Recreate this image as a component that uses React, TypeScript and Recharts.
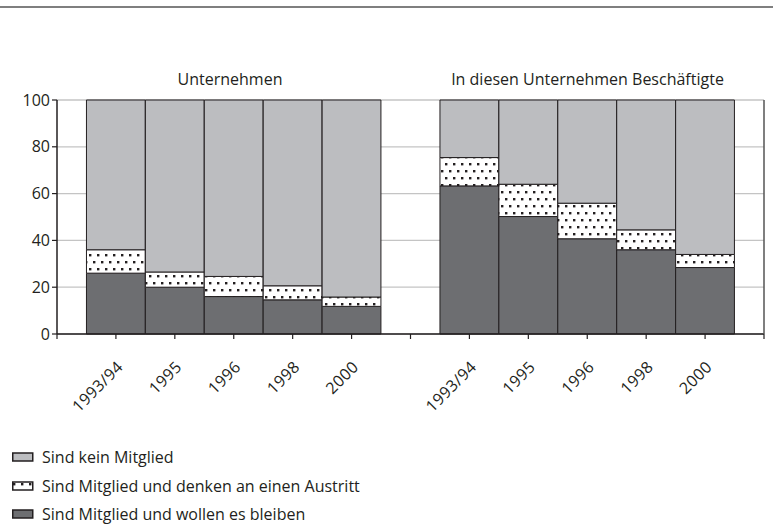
import { BarChart, Bar, XAxis, YAxis, CartesianGrid } from "recharts";

// survey years, repeated for both groups
const years = ["1993/94", "1995", "1996", "1998", "2000"];
const groups = ["Unternehmen", "In diesen Unternehmen Beschäftigte"];

// Sind Mitglied und wollen es bleiben
const stayCompanies = [26, 20, 16, 14.6, 11.8];
const stayEmployees = [63.3, 50.2, 40.7, 36, 28.4];
// Sind Mitglied und denken an einen Austritt
const exitCompanies = [10, 6.5, 8.6, 6, 4];
const exitEmployees = [12.1, 13.8, 15.2, 8.5, 5.6];

const yTicks = [0, 20, 40, 60, 80, 100];

const FONT = "'Open Sans', sans-serif";
const INK = "#231f20";
const LIGHT = "#bcbdc0";
const DARK = "#6d6e71";

// one empty slot between the groups, half a slot at each end
const slotsPerGroup = years.length + 1;

const buildRows = (stay: number[], exit: number[], g: number) =>
  years.map((year, i) => ({
    year,
    pos: g * slotsPerGroup + i + 1,
    stay: stay[i],
    exit: exit[i],
    none: +(100 - stay[i] - exit[i]).toFixed(1),
  }));

const data = [
  ...buildRows(stayCompanies, exitCompanies, 0),
  ...buildRows(stayEmployees, exitEmployees, 1),
];

const xTicks = Array.from({ length: slotsPerGroup * 2 + 1 }, (_, i) => i);
const labelAt = (pos: number) => data.find((d) => d.pos === pos)?.year ?? "";

const YearTick = (props: any) => {
  const { x, y, payload } = props;
  const label = labelAt(payload.value);
  if (!label) return null;
  const ax = x + 8;
  const ay = y + 27;
  return (
    <text
      x={ax}
      y={ay}
      textAnchor="end"
      transform={`rotate(-45, ${ax}, ${ay})`}
      fontFamily={FONT}
      fontSize={16}
      letterSpacing={0.4}
      fill={INK}
    >
      {label}
    </text>
  );
};

const legendItems = [
  { label: "Sind kein Mitglied", fill: LIGHT },
  { label: "Sind Mitglied und denken an einen Austritt", fill: "url(#dots)" },
  { label: "Sind Mitglied und wollen es bleiben", fill: DARK },
];

export default function App() {
  return (
    <div
      style={{
        position: "absolute",
        left: 0,
        top: 0,
        width: 773,
        height: 525,
        background: "#fff",
        fontFamily: FONT,
        color: INK,
      }}
    >
      <svg width={0} height={0} style={{ position: "absolute" }}>
        <defs>
          <pattern id="dots" width={8} height={14} patternUnits="userSpaceOnUse">
            <rect width={8} height={14} fill="#fff" />
            <rect x={1} y={2} width={2.4} height={2.4} fill={INK} />
            <rect x={5} y={9} width={2.4} height={2.4} fill={INK} />
          </pattern>
        </defs>
      </svg>

      <div
        style={{
          position: "absolute",
          left: 0,
          top: 6,
          width: 773,
          height: 2,
          background: "#7f7f7f",
        }}
      />

      {groups.map((g, i) => (
        <div
          key={g}
          style={{
            position: "absolute",
            top: 68,
            left: i === 0 ? 130 : 430,
            width: i === 0 ? 200 : 315,
            textAlign: "center",
            fontSize: 16,
          }}
        >
          {g}
        </div>
      ))}

      <div style={{ position: "absolute", left: 0, top: 0 }}>
        <BarChart
          width={773}
          height={430}
          data={data}
          margin={{ top: 100, right: 0, bottom: 16, left: 0 }}
          barSize={58.8}
          barCategoryGap={0}
          barGap={0}
        >
          <CartesianGrid
            vertical={false}
            stroke="#c4c4c4"
            strokeWidth={1.3}
            yAxisId="left"
          />
          <XAxis
            dataKey="pos"
            type="number"
            domain={[0, xTicks.length - 1]}
            ticks={xTicks}
            interval={0}
            height={80}
            tick={<YearTick />}
            tickLine={{ stroke: INK, strokeWidth: 1.2 }}
            tickSize={5}
            axisLine={{ stroke: INK, strokeWidth: 1.5 }}
          />
          <YAxis
            yAxisId="left"
            domain={[0, 100]}
            ticks={yTicks}
            width={57}
            tick={{ fill: INK, fontSize: 16, fontFamily: FONT }}
            tickLine={{ stroke: INK, strokeWidth: 1.2 }}
            tickSize={5}
            axisLine={{ stroke: INK, strokeWidth: 1.5 }}
          />
          <YAxis
            yAxisId="right"
            orientation="right"
            domain={[0, 100]}
            width={9}
            tick={false}
            tickLine={false}
            axisLine={{ stroke: "#555", strokeWidth: 1.5 }}
          />
          <Bar
            yAxisId="left"
            dataKey="stay"
            stackId="a"
            fill={DARK}
            stroke={INK}
            strokeWidth={1}
            isAnimationActive={false}
          />
          <Bar
            yAxisId="left"
            dataKey="exit"
            stackId="a"
            fill="url(#dots)"
            stroke={INK}
            strokeWidth={1}
            isAnimationActive={false}
          />
          <Bar
            yAxisId="left"
            dataKey="none"
            stackId="a"
            fill={LIGHT}
            stroke={INK}
            strokeWidth={1}
            isAnimationActive={false}
          />
        </BarChart>
      </div>

      <div style={{ position: "absolute", left: 12, top: 443 }}>
        {legendItems.map((item) => (
          <div
            key={item.label}
            style={{
              display: "flex",
              alignItems: "center",
              height: 28.5,
              fontSize: 16,
              lineHeight: "20px",
            }}
          >
            <svg width={22} height={10} style={{ marginRight: 8 }}>
              <rect x={0.75} y={1} width={20} height={8} fill={item.fill} stroke={INK} strokeWidth={1.5} />
            </svg>
            {item.label}
          </div>
        ))}
      </div>
    </div>
  );
}
